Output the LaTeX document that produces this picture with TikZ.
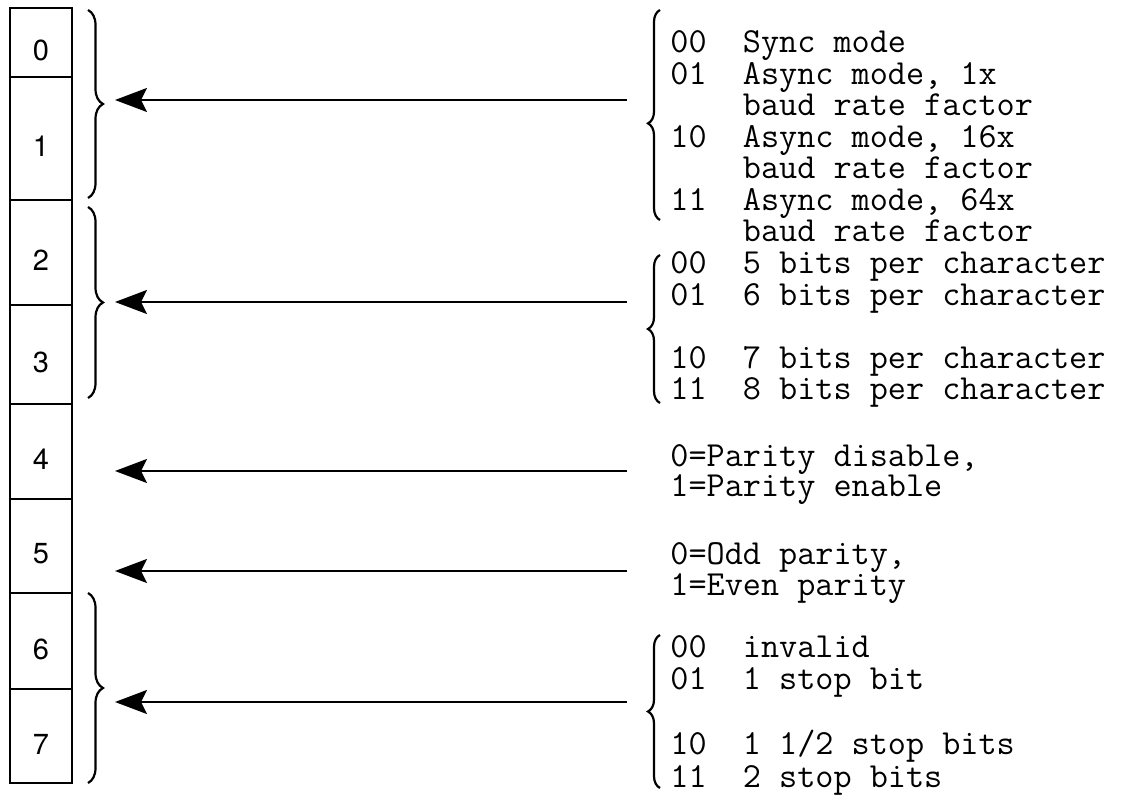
\documentclass[tikz,border=0pt]{standalone}
\usepackage{fontspec}
\setsansfont{TeX Gyre Heros}
\usetikzlibrary{arrows.meta,decorations.pathreplacing}

\begin{document}
\begin{tikzpicture}[
    x=0.5pt, y=-0.5pt,
    >={Stealth[length=16pt, width=12pt, inset=3pt]},
    bitbox/.style={draw, line width=1.2pt, minimum width=31pt, inner sep=0pt},
    bitnum/.style={font=\sffamily\fontsize{14.5}{14.5}\selectfont, inner sep=0pt},
    bitbrace/.style={decorate, decoration={brace, amplitude=7.5pt}, line width=1.1pt},
    codebrace/.style={decorate, decoration={brace, amplitude=6pt}, line width=1.1pt},
    codetext/.style={font=\ttfamily\fontsize{17.6}{15.75}\selectfont, align=left, anchor=base west, inner sep=0pt},
    fieldarrow/.style={->, line width=1pt},
]
\useasboundingbox (0,0) rectangle (1145,795);

% === Register bits ===
\foreach \n/\ytop/\ybot in {0/8/77, 1/77/200, 2/200/305, 3/305/404, 4/404/499, 5/499/593, 6/593/689, 7/689/783} {
    \node[bitbox, minimum height={(\ybot-\ytop)*0.5pt}] (bit\n) at (41,{(\ytop+\ybot)/2}) {};
    \node[bitnum] (num\n) at ([yshift=-4pt]bit\n.center) {\n};
}

% === Braces on the bits ===
\draw[bitbrace] (88,10) -- (88,198);
\draw[bitbrace] (88,207) -- (88,398);
\draw[bitbrace] (88,593) -- (88,783);

% === Mode (placed at its last baseline) ===
\draw[codebrace, decoration={aspect=0.46}] (660,220) -- (660,10);
\node[codetext] (mode) at (670,242) {%
00\ \ Sync mode\\
01\ \ Async mode, 1x\\
\hphantom{00\ \ }baud rate factor\\
10\ \ Async mode, 16x\\
\hphantom{00\ \ }baud rate factor\\
11\ \ Async mode, 64x\\
\hphantom{00\ \ }baud rate factor};

% === Character length ===
\draw[codebrace] (660,403) -- (660,255);
\node[codetext] (length) at (670,400) {%
00\ \ 5 bits per character\\
01\ \ 6 bits per character\\[15.75pt]
10\ \ 7 bits per character\\
11\ \ 8 bits per character};

% === Parity ===
\node[codetext, font=\ttfamily\fontsize{17.6}{15}\selectfont] (penable) at (670,497) {%
0=Parity disable,\\
1=Parity enable};
\node[codetext, font=\ttfamily\fontsize{17.6}{14.5}\selectfont] (ptype) at (670,596) {%
0=Odd parity,\\
1=Even parity};

% === Stop bits ===
\draw[codebrace] (660,788) -- (660,635);
\node[codetext, font=\ttfamily\fontsize{17.6}{16.25}\selectfont] (stop) at (670,787) {%
00\ \ invalid\\
01\ \ 1 stop bit\\[16.25pt]
10\ \ 1 1/2 stop bits\\
11\ \ 2 stop bits};

% === Arrows ===
\foreach \f/\y in {mode/100, length/302, penable/471, ptype/571, stop/702} {
    \coordinate (\f Tail) at (627,\y);
    \coordinate (\f Head) at (115,\y);
    \draw[fieldarrow] (\f Tail) -- (\f Head);
}

\end{tikzpicture}
\end{document}
